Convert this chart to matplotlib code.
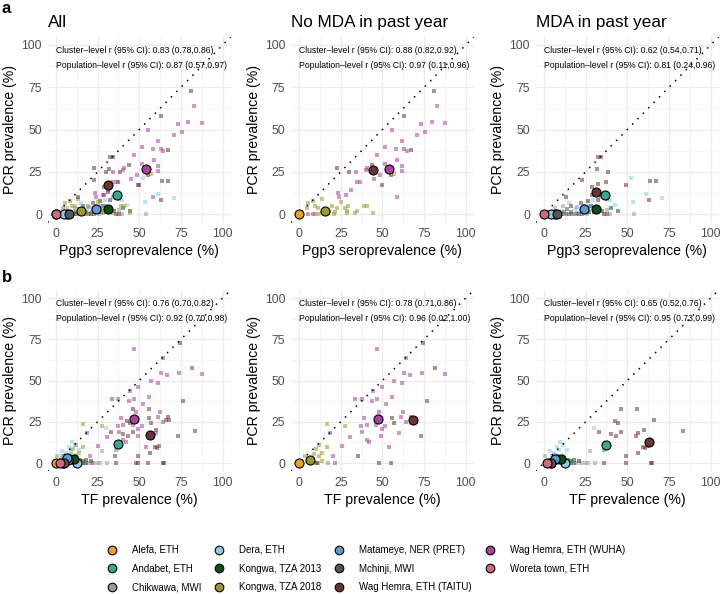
import numpy as np
import matplotlib.pyplot as plt

plt.rcParams['font.family'] = ['Liberation Sans', 'DejaVu Sans']

#%% Groups and colours
codes  = ['ALE', 'AND', 'CHI', 'DER', 'K13', 'K18', 'MAT', 'MCH', 'TAI', 'WUH', 'WOR']
names  = ['Alefa, ETH', 'Andabet, ETH', 'Chikwawa, MWI', 'Dera, ETH', 'Kongwa, TZA 2013',
          'Kongwa, TZA 2018', 'Matameye, NER (PRET)', 'Mchinji, MWI',
          'Wag Hemra, ETH (TAITU)', 'Wag Hemra, ETH (WUHA)', 'Woreta town, ETH']
colors = ['#E3A52E', '#3FA58F', '#9A9A9A', '#8ACCEB', '#0F4D1A', '#9C9A2E',
          '#5F98D0', '#555555', '#6A3535', '#A9449C', '#D06A79']

#%% Cluster-level data (group, x, PCR)
# Pgp3 seroprevalence, no MDA in past year
sero_nomda = [
    ('TAI', 81, 73), ('TAI', 63, 58), ('TAI', 67, 38), ('TAI', 23, 27.5), ('TAI', 30, 25),
    ('TAI', 44, 29), ('TAI', 50, 17), ('TAI', 55, 23),
    ('WUH', 83, 64), ('WUH', 87.5, 54), ('WUH', 79.5, 54.5), ('WUH', 73, 53), ('WUH', 75.5, 48.5),
    ('WUH', 71, 46.5), ('WUH', 55.5, 50), ('WUH', 61.5, 43), ('WUH', 51.5, 39.5), ('WUH', 58, 38.5),
    ('WUH', 63, 38.5), ('WUH', 64.5, 37.5), ('WUH', 59, 32), ('WUH', 61.5, 28.5), ('WUH', 61.5, 25.5),
    ('WUH', 47, 35), ('WUH', 51.5, 29.5), ('WUH', 41, 27), ('WUH', 34, 25), ('WUH', 34.5, 19),
    ('WUH', 36.5, 19), ('WUH', 31, 14.5), ('WUH', 28, 11.5), ('WUH', 23.5, 12.5), ('WUH', 24, 10),
    ('WUH', 48.5, 23), ('WUH', 58.5, 10), ('WUH', 5.5, 0), ('WUH', 8.5, 0), ('WUH', 45, 21),
    ('WUH', 40, 26),
    ('K18', 13.5, 9), ('K18', 8.5, 7.5), ('K18', 9.5, 4.5), ('K18', 11.5, 3.5), ('K18', 19.5, 4.5),
    ('K18', 22.5, 3.5), ('K18', 27.5, 3.5), ('K18', 29.5, 4.5), ('K18', 34.5, 2), ('K18', 39, 5),
    ('K18', 41, 5), ('K18', 44.5, 0.5), ('K18', 28.5, 0.5), ('K18', 33.5, 0.5), ('K18', 16.5, 0.5),
    ('K18', 11.5, 0), ('K18', 9.5, 0), ('K18', 21.5, 1.5), ('K18', 5.5, 6.5), ('K18', 4.5, 3.5),
    ('K18', 21, 0), ('K18', 29, 2), ('K18', 25, 7), ('K18', 57, 23.5), ('K18', 18, 1.5),
    ('K18', 14, 0.5),
    ('ALE', 0, 0), ('ALE', 0.5, 0), ('ALE', 1, 0.5), ('ALE', 0, 1),
]
# Pgp3 seroprevalence, MDA in past year
sero_mda = [
    ('TAI', 32.5, 33.5), ('TAI', 34.5, 33.5), ('TAI', 32, 26.5), ('TAI', 38.5, 25), ('TAI', 23, 20),
    ('TAI', 29, 16), ('TAI', 32.5, 18), ('TAI', 37, 19), ('TAI', 29, 11), ('TAI', 32.5, 8.5),
    ('TAI', 49.5, 17), ('TAI', 63.5, 19.5), ('TAI', 67.5, 19.5), ('TAI', 63, 8.5), ('TAI', 13.5, 10),
    ('TAI', 16.5, 4.5), ('TAI', 22.5, 6.5), ('TAI', 36, 0), ('TAI', 38, 0), ('TAI', 31, 13),
    ('DER', 52.5, 21.5), ('DER', 61.5, 12), ('DER', 71, 9.5), ('DER', 53.5, 7), ('DER', 39.5, 8.5),
    ('DER', 42.5, 5.5), ('DER', 15, 6.5), ('DER', 29.5, 8.5), ('DER', 18.5, 3), ('DER', 30.5, 4),
    ('DER', 36, 11.5), ('DER', 5, 0), ('DER', 3, 1), ('DER', 10, 2),
    ('K13', 44.5, 2), ('K13', 40.5, 3.5), ('K13', 26.5, 7.5), ('K13', 28.5, 4.5), ('K13', 33, 3),
    ('K13', 30, 1), ('K13', 35, 2), ('K13', 27, 1),
    ('CHI', 54, 0), ('CHI', 38, 2.5), ('CHI', 11.5, 4.5), ('CHI', 6.5, 3.5), ('CHI', 39.5, 0),
    ('CHI', 26, 0), ('CHI', 9, 1), ('CHI', 20, 0.5),
    ('MCH', 5, 0), ('MCH', 7, 0), ('MCH', 9, 0), ('MCH', 11, 0), ('MCH', 13, 0), ('MCH', 15, 0),
    ('MCH', 17, 0), ('MCH', 19, 0), ('MCH', 21, 0), ('MCH', 12, 1), ('MCH', 16, 1.5), ('MCH', 23, 0),
    ('MCH', 14, 3),
    ('MAT', 26.5, 3.5), ('MAT', 22, 2), ('MAT', 24, 5), ('MAT', 20, 4), ('MAT', 27, 5), ('MAT', 30, 3),
    ('AND', 36, 12), ('AND', 38, 9), ('AND', 34, 10),
    ('WOR', 0, 0), ('WOR', 1, 0), ('WOR', 2, 0.5), ('WOR', 0, 1),
]
# TF prevalence, no MDA in past year
tf_nomda = [
    ('WUH', 47, 69), ('WUH', 64, 63.5), ('WUH', 63, 54.5), ('WUH', 66.5, 53.5), ('WUH', 74, 54.5),
    ('WUH', 87.5, 54), ('WUH', 57, 50), ('WUH', 61.5, 48.5), ('WUH', 49.5, 46), ('WUH', 44.5, 43.5),
    ('WUH', 33.5, 39), ('WUH', 37.5, 39), ('WUH', 44, 37.5), ('WUH', 47, 38.5), ('WUH', 56, 40),
    ('WUH', 52, 36), ('WUH', 62.5, 31), ('WUH', 48, 31), ('WUH', 39, 27), ('WUH', 37, 22.5),
    ('WUH', 40.5, 23), ('WUH', 46, 23), ('WUH', 49.5, 20.5), ('WUH', 51.5, 22.5), ('WUH', 38, 18.5),
    ('WUH', 49, 16.5), ('WUH', 60, 18), ('WUH', 61, 28), ('WUH', 64, 25), ('WUH', 40.5, 14),
    ('WUH', 42, 13), ('WUH', 54, 10), ('WUH', 25.5, 10.5), ('WUH', 30.5, 16), ('WUH', 20.5, 4),
    ('WUH', 21.5, 0), ('WUH', 18.5, 18), ('WUH', 47.5, 26),
    ('TAI', 74.5, 73), ('TAI', 81.5, 57.5), ('TAI', 76.5, 37.5), ('TAI', 56, 27), ('TAI', 57, 24.5),
    ('TAI', 67, 28), ('TAI', 73, 16.5), ('TAI', 35.5, 4), ('TAI', 48, 0), ('TAI', 55, 0),
    ('TAI', 10.5, 0), ('TAI', 68, 26),
    ('K18', 16.5, 23.5), ('K18', 27.5, 22.5), ('K18', 16.5, 10), ('K18', 10, 8.5), ('K18', 9, 5.5),
    ('K18', 12, 4), ('K18', 13.5, 1.5), ('K18', 17.5, 0), ('K18', 3.5, 4), ('K18', 11.5, 0),
    ('K18', 8, 2), ('K18', 5, 1.5), ('K18', 14, 6), ('K18', 12, 11), ('K18', 10, 0),
    ('ALE', 0, 0), ('ALE', 0.5, 0), ('ALE', 1, 0.5),
]
# TF prevalence, MDA in past year
tf_mda = [
    ('TAI', 46, 33), ('TAI', 56, 33), ('TAI', 42.5, 25.5), ('TAI', 44.5, 24.5), ('TAI', 66, 26),
    ('TAI', 33, 18.5), ('TAI', 40.5, 17.5), ('TAI', 43.5, 16.5), ('TAI', 46.5, 19), ('TAI', 56.5, 18),
    ('TAI', 60, 20), ('TAI', 83.5, 19.5), ('TAI', 55, 16.5), ('TAI', 59.5, 10), ('TAI', 60.5, 9),
    ('TAI', 56.5, 6), ('TAI', 49, 4), ('TAI', 49, 0), ('TAI', 36, 0), ('TAI', 64, 0), ('TAI', 65, 0),
    ('TAI', 62, 10.5),
    ('CHI', 27.5, 7), ('CHI', 30.5, 0), ('CHI', 26.5, 0), ('CHI', 24.5, 0), ('CHI', 22, 0),
    ('CHI', 0.5, 4), ('CHI', 5, 3), ('CHI', 19, 0),
    ('DER', 30, 21.5), ('DER', 9.5, 13), ('DER', 11.5, 11), ('DER', 9, 8), ('DER', 3.5, 7),
    ('DER', 14, 8), ('DER', 8, 10), ('DER', 12, 5), ('DER', 6, 6), ('DER', 10, 3),
    ('K13', 18, 2), ('K13', 21, 1.5), ('K13', 14.5, 2), ('K13', 8.5, 4), ('K13', 12, 1), ('K13', 16, 1),
    ('MCH', 4, 0), ('MCH', 6, 0), ('MCH', 8, 0), ('MCH', 10, 0), ('MCH', 14, 0), ('MCH', 16, 0),
    ('MCH', 12, 0), ('MCH', 7, 1), ('MCH', 3, 2), ('MCH', 18, 0),
    ('MAT', 5, 4), ('MAT', 7, 5), ('MAT', 9, 3), ('MAT', 4, 2),
    ('AND', 38, 11), ('AND', 36, 8),
    ('WOR', 1, 0), ('WOR', 2.5, 0), ('WOR', 3, 1),
]

#%% Population-level data (group, x, PCR)
pop_sero_all = [('ALE', 0, 0), ('AND', 36.5, 11.5), ('CHI', 6.5, 0), ('DER', 4.6, 0), ('K13', 31.5, 2.8),
                ('K18', 15, 2), ('MAT', 24, 3), ('MCH', 8, 0), ('TAI', 31.5, 17), ('WUH', 54, 26.5),
                ('WOR', 0, 0)]
pop_sero_nomda = [('ALE', 0, 0), ('K18', 15.5, 2), ('TAI', 44.5, 26), ('WUH', 54, 26.5)]
pop_sero_mda = [('AND', 36.5, 11.2), ('CHI', 6.5, 0), ('DER', 4.5, 0), ('K13', 31.5, 2.8),
                ('MAT', 24, 3.2), ('MCH', 8, 0), ('TAI', 31.5, 13), ('WOR', 0, 0)]
pop_tf_all = [('ALE', 0, 0), ('AND', 37.5, 11.3), ('CHI', 4.5, 0), ('DER', 12.5, 0), ('K13', 11, 2.4),
              ('K18', 7, 2), ('MAT', 6.6, 2.8), ('MCH', 5, 0), ('TAI', 56.5, 16.8), ('WUH', 47, 26.5),
              ('WOR', 2.2, 0)]
pop_tf_nomda = [('ALE', 0, 0), ('K18', 6.5, 2), ('TAI', 68.3, 26.3), ('WUH', 47.5, 26.5)]
pop_tf_mda = [('AND', 37.5, 11), ('CHI', 4, 0), ('DER', 12.5, 0), ('K13', 10.5, 2.4),
              ('MAT', 6.5, 2.4), ('MCH', 4.5, 0), ('TAI', 63.3, 13), ('WOR', 2, 0)]

#%% Panel text
titles = ['All', 'No MDA in past year', 'MDA in past year']
xlabels = ['Pgp3 seroprevalence (%)', 'TF prevalence (%)']
cluster_r = ['0.83 (0.78,0.86)', '0.88 (0.82,0.92)', '0.62 (0.54,0.71)',
             '0.76 (0.70,0.82)', '0.78 (0.71,0.86)', '0.65 (0.52,0.76)']
pop_r = ['0.87 (0.57,0.97)', '0.97 (0.11,0.96)', '0.81 (0.24,0.96)',
         '0.92 (0.70,0.98)', '0.96 (0.02,1.00)', '0.95 (0.73,0.99)']

ticks = [0, 25, 50, 75, 100]
minor = [12.5, 37.5, 62.5, 87.5]

#%% Figure
fig = plt.figure(figsize=(7.2, 5.94), dpi=100)
lefts = [0.0661, 0.4038, 0.7439]
rows = [(0.6254, 0.3131), (0.2066, 0.3056)]

panel_clusters = [[sero_nomda + sero_mda, sero_nomda, sero_mda],
                  [tf_nomda + tf_mda, tf_nomda, tf_mda]]
panel_pop = [[pop_sero_all, pop_sero_nomda, pop_sero_mda],
             [pop_tf_all, pop_tf_nomda, pop_tf_mda]]

col_of = dict(zip(codes, colors))

for r in range(2):
    for c in range(3):
        ax = fig.add_axes([lefts[c], rows[r][0], 0.2547, rows[r][1]])
        for v in ticks:
            ax.axvline(v, color='#EBEBEB', lw=0.9, zorder=0)
            ax.axhline(v, color='#EBEBEB', lw=0.9, zorder=0)
        for v in minor:
            ax.axvline(v, color='#EFEFEF', lw=0.45, zorder=0)
            ax.axhline(v, color='#EFEFEF', lw=0.45, zorder=0)

        # cluster-level squares, one group at a time
        data = panel_clusters[r][c]
        for code in codes:
            pts = [(x, y) for g, x, y in data if g == code]
            if pts:
                xs, ys = zip(*pts)
                ax.scatter(xs, ys, s=11, marker='s', color=col_of[code], alpha=0.55,
                           linewidths=0, zorder=2)

        ax.plot([-5, 105], [-5, 105], color='black', lw=1.1, ls=(0, (1, 4)), zorder=3)

        # population-level circles
        for g, x, y in panel_pop[r][c]:
            ax.scatter([x], [y], s=42, color=col_of[g], edgecolor='black', linewidths=0.8, zorder=4)

        i = r * 3 + c
        ax.text(0, 96.6, 'Cluster\u2013level r (95% CI): ' + cluster_r[i], fontsize=6.2,
                ha='left', va='center', zorder=5)
        ax.text(0, 87.6, 'Population\u2013level r (95% CI): ' + pop_r[i], fontsize=6.2,
                ha='left', va='center', zorder=5)

        ax.set_xlim(-5, 105)
        ax.set_ylim(-5, 105)
        ax.set_xticks(ticks)
        ax.set_yticks(ticks)
        ax.tick_params(length=0, labelsize=8.7, labelcolor='#4D4D4D', pad=4)
        for s in ax.spines.values():
            s.set_visible(False)
        ax.set_xlabel(xlabels[r], fontsize=10.2, labelpad=3)
        ax.set_ylabel('PCR prevalence (%)', fontsize=10.2, labelpad=3)
        if r == 0:
            ax.set_title(titles[c], loc='left', fontsize=12.3, pad=7)

fig.text(0.002, 0.998, 'a', fontsize=12, fontweight='bold', ha='left', va='top')
fig.text(0.002, 0.545, 'b', fontsize=12, fontweight='bold', ha='left', va='top')

handles = [plt.Line2D([], [], ls='none', marker='o', markersize=6.2, markerfacecolor=col,
                      markeredgecolor='black', markeredgewidth=0.8) for col in colors]
fig.legend(handles, names, loc='upper center', bbox_to_anchor=(0.508, 0.094),
           ncol=4, frameon=False, fontsize=7, handlelength=1.0, handletextpad=1.55,
           columnspacing=1.35, labelspacing=0.9, borderpad=0.2)

fig.savefig('out.png', dpi=100)
